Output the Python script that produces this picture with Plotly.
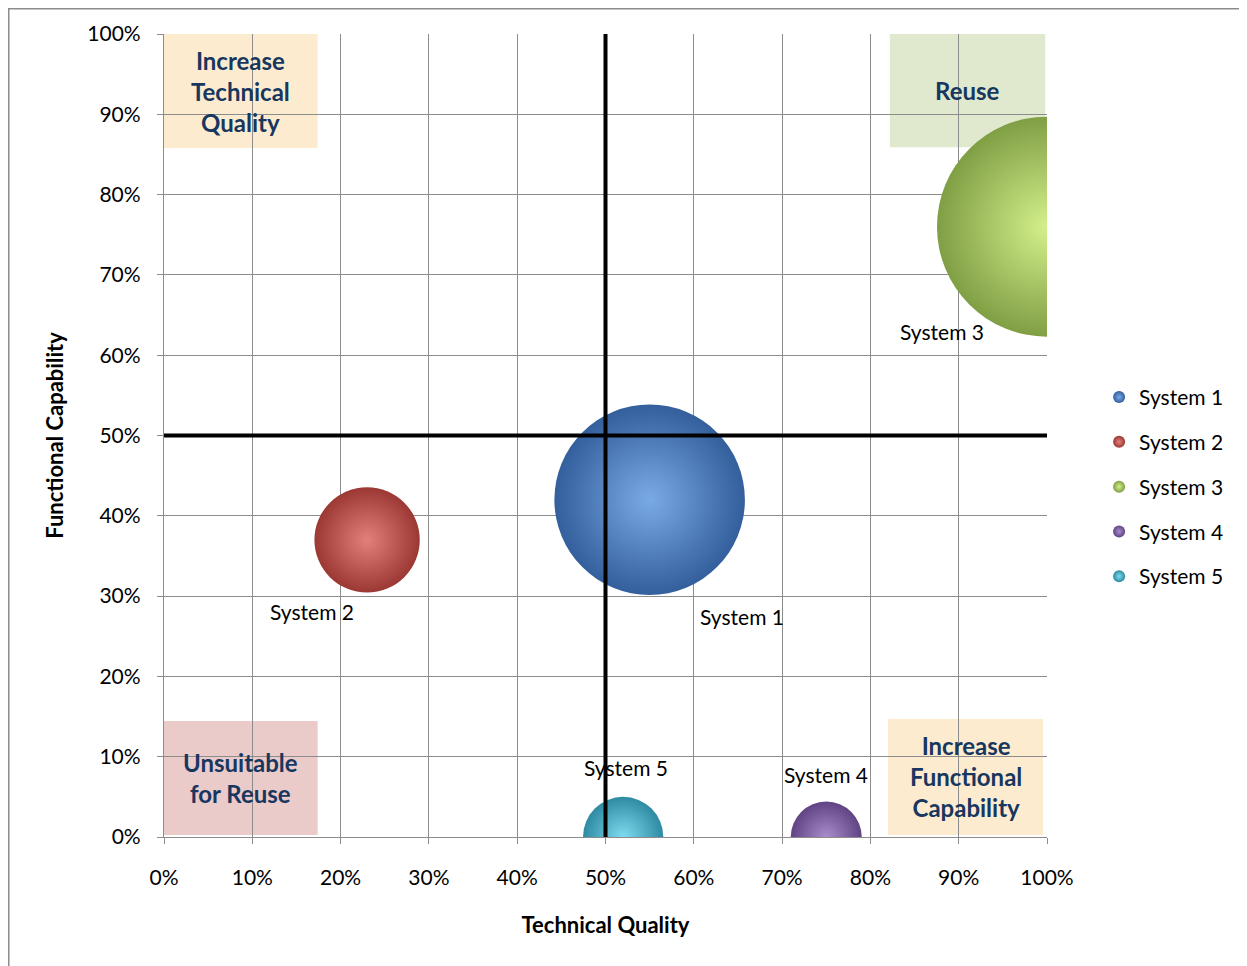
import plotly.graph_objects as go

# ---- data ----
systems = ["System 1", "System 2", "System 3", "System 4", "System 5"]
technical_quality = [0.55, 0.23, 1.00, 0.75, 0.52]
functional_capability = [0.42, 0.37, 0.76, 0.00, 0.00]
bubble_size = [36, 11, 48, 5, 6.4]
x_ticks = [0, 0.1, 0.2, 0.3, 0.4, 0.5, 0.6, 0.7, 0.8, 0.9, 1.0]
y_ticks = [0, 0.1, 0.2, 0.3, 0.4, 0.5, 0.6, 0.7, 0.8, 0.9, 1.0]
tick_labels = ["0%", "10%", "20%", "30%", "40%", "50%", "60%", "70%", "80%", "90%", "100%"]
threshold_x = 0.5
threshold_y = 0.5

# ---- style ----
FONT = "Lato"
center_colors = ["#7AAAE6", "#E4807B", "#D4F08C", "#A88CCB", "#7EDCF0"]
edge_colors = ["#335F9C", "#9C3834", "#809F44", "#5F4383", "#2E8AA2"]
label_offsets = [(92, 117), (-55, 72), (-105, 105), (0, -63), (3, -70)]
max_diam = 220
sizeref = 2 * max(bubble_size) / (max_diam ** 2)

fig = go.Figure()
for i, name in enumerate(systems):
    fig.add_trace(go.Scatter(
        x=[technical_quality[i]], y=[functional_capability[i]],
        mode="markers", name=name, legendgroup=name,
        marker=dict(size=[bubble_size[i]], sizemode="area", sizeref=sizeref,
                    color=edge_colors[i], opacity=1,
                    gradient=dict(type="radial", color=center_colors[i]),
                    line=dict(width=0)),
        cliponaxis=True, hoverinfo="name",
    ))
    fig.add_annotation(x=technical_quality[i], y=functional_capability[i],
                       xref="x", yref="y", text=name, showarrow=True,
                       arrowcolor="rgba(0,0,0,0)", ax=label_offsets[i][0],
                       ay=label_offsets[i][1],
                       font=dict(family=FONT, size=21, color="#000000"))

# quadrant boxes
boxes = [
    (0.0, 0.174, 0.858, 1.0, "#FDEBD0", "Increase<br>Technical<br>Quality"),
    (0.822, 0.998, 0.859, 1.0, "#E0E9CE", "Reuse"),
    (0.0, 0.174, 0.0025, 0.1445, "#EBCACA", "Unsuitable<br>for Reuse"),
    (0.820, 0.9955, 0.0025, 0.147, "#FDEBD0", "Increase<br>Functional<br>Capability"),
]
for x0, x1, y0, y1, col, txt in boxes:
    fig.add_shape(type="rect", xref="x", yref="y", x0=x0, x1=x1, y0=y0, y1=y1,
                  fillcolor=col, line=dict(width=0), layer="below")
    fig.add_annotation(x=(x0 + x1) / 2, y=(y0 + y1) / 2, xref="x", yref="y",
                       text="<b>" + txt + "</b>", showarrow=False,
                       font=dict(family=FONT, size=24, color="#17375E"))

# threshold lines
fig.add_shape(type="line", xref="x", yref="y", x0=threshold_x, x1=threshold_x,
              y0=0, y1=1, line=dict(color="black", width=4), layer="above")
fig.add_shape(type="line", xref="x", yref="y", x0=0, x1=1.003,
              y0=threshold_y, y1=threshold_y, line=dict(color="black", width=4), layer="above")

# outer border
fig.add_shape(type="rect", xref="paper", yref="paper", x0=-0.1758, x1=1.3, y0=-0.5,
              y1=1.0314, line=dict(color="#8C8C8C", width=1.5), fillcolor="rgba(0,0,0,0)")

axis_common = dict(range=[0, 1], showgrid=True, gridcolor="#8C8C8C", gridwidth=1.3,
                   showline=True, linecolor="#8C8C8C", linewidth=1.3, mirror=False,
                   ticks="outside", ticklen=6, tickcolor="#8C8C8C", zeroline=False,
                   tickfont=dict(family=FONT, size=21, color="#000000"),
                   tickvals=x_ticks, ticktext=tick_labels)
fig.update_xaxes(**dict(axis_common, ticklabelstandoff=16),
                 title=dict(text="<b>Technical Quality</b>", standoff=29,
                            font=dict(family=FONT, size=22, color="#000000")))
fig.update_yaxes(**dict(axis_common, tickvals=y_ticks, ticklabelstandoff=12),
                 title=dict(text="<b>Functional Capability</b>", standoff=17,
                            font=dict(family=FONT, size=22, color="#000000")))

fig.update_layout(
    width=1247, height=966,
    margin=dict(l=156, r=208, t=26, b=137, autoexpand=False),
    plot_bgcolor="white", paper_bgcolor="white",
    legend=dict(x=1.059, y=0.436, xanchor="left", yanchor="middle",
                font=dict(family=FONT, size=21, color="#000000"),
                itemsizing="constant", tracegroupgap=14.5, bgcolor="rgba(0,0,0,0)"),
    showlegend=True,
)
fig.write_html("out.html")
